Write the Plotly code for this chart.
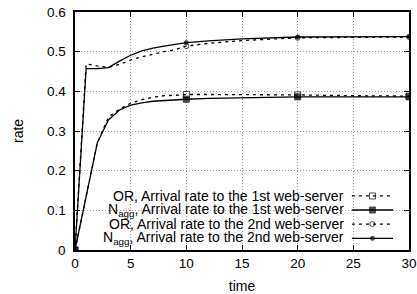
import plotly.graph_objects as go

# ---- data ----
time = [0, 1, 2, 3, 4, 5, 6, 7, 8, 9, 10, 12, 15, 20, 25, 30]
or_1st = [0, 0.135, 0.27, 0.335, 0.355, 0.370, 0.379, 0.385, 0.389, 0.390, 0.392, 0.392, 0.392, 0.391, 0.389, 0.388]
nagg_1st = [0, 0.135, 0.27, 0.328, 0.353, 0.365, 0.371, 0.375, 0.377, 0.379, 0.380, 0.382, 0.384, 0.386, 0.386, 0.386]
or_2nd = [0, 0.469, 0.464, 0.460, 0.468, 0.479, 0.487, 0.494, 0.500, 0.505, 0.514, 0.521, 0.528, 0.535, 0.536, 0.537]
nagg_2nd = [0, 0.457, 0.457, 0.460, 0.476, 0.491, 0.502, 0.509, 0.514, 0.519, 0.523, 0.527, 0.532, 0.537, 0.538, 0.538]

series_names = [
    "OR, Arrival rate to the 1st web-server",
    "N<sub>agg</sub>, Arrival rate to the 1st web-server",
    "OR, Arrival rate to the 2nd web-server",
    "N<sub>agg</sub>, Arrival rate to the 2nd web-server",
]
series_values = [or_1st, nagg_1st, or_2nd, nagg_2nd]

x_ticks = [0, 5, 10, 15, 20, 25, 30]
y_ticks = [0, 0.1, 0.2, 0.3, 0.4, 0.5, 0.6]
y_tick_labels = ["0", "0.1", "0.2", "0.3", "0.4", "0.5", "0.6"]

# ---- styles ----
styles = [
    dict(dash="3px,4px", symbol="square-open", size=6),
    dict(dash="solid", symbol="square", size=6),
    dict(dash="3px,4px", symbol="circle-open", size=5),
    dict(dash="solid", symbol="circle", size=4),
]
FONT = "Liberation Sans, Arial, Helvetica, sans-serif"
marker_every = 10

fig = go.Figure()
for name, vals, st in zip(series_names, series_values, styles):
    sizes = [st["size"] if (t % marker_every == 0) else 0 for t in time]
    fig.add_trace(go.Scatter(
        x=time, y=vals, mode="lines+markers", name=name, showlegend=False,
        line=dict(color="black", width=1.3, dash=st["dash"]),
        marker=dict(symbol=st["symbol"], size=sizes, color="black",
                    line=dict(color="black", width=1)),
        xaxis="x", yaxis="y",
    ))

annotations = []
# y tick labels (placed like gnuplot, close to the axis)
for v, lab in zip(y_ticks, y_tick_labels):
    annotations.append(dict(xref="paper", yref="y", x=0, y=v, text=lab, showarrow=False,
                            xanchor="right", yanchor="middle", xshift=-8, borderpad=0,
                            font=dict(size=13.5, color="black", family=FONT)))
# y axis title
annotations.append(dict(xref="paper", yref="paper", x=0, y=0.5, text="rate", showarrow=False,
                        textangle=-90, xanchor="center", yanchor="middle", xshift=-57,
                        font=dict(size=14, color="black", family=FONT)))

# ---- manual key (text left, sample right, like gnuplot) ----
key_rows = [0.227, 0.168, 0.109, 0.049]
key_text_right = 0.808
key_x0, key_x1 = 0.829, 0.952
shapes = [dict(type="rect", xref="paper", yref="paper", x0=0.003, x1=0.973,
               y0=0.004, y1=0.262, fillcolor="white", line=dict(width=0),
               layer="between")]
for name, st, yr in zip(series_names, styles, key_rows):
    annotations.append(dict(xref="paper", yref="paper", x=key_text_right, y=yr,
                            text=name, showarrow=False, xanchor="right",
                            yanchor="middle", borderpad=0,
                            font=dict(size=14, color="black", family=FONT)))
    fig.add_trace(go.Scatter(
        x=[key_x0, (key_x0 + key_x1) / 2, key_x1], y=[yr, yr, yr],
        mode="lines+markers", showlegend=False, hoverinfo="skip",
        line=dict(color="black", width=1.3, dash=st["dash"]),
        marker=dict(symbol=st["symbol"], size=[0, st["size"], 0], color="black",
                    line=dict(color="black", width=1)),
        xaxis="x2", yaxis="y2",
    ))

axis_common = dict(showline=True, linecolor="black", linewidth=1.5, mirror="ticks",
                   ticks="inside", ticklen=5, tickcolor="black", tickwidth=1,
                   showgrid=True, gridcolor="#9a9a9a", griddash="1px,2px", gridwidth=1,
                   zeroline=False, automargin=False, ticklabeloverflow="allow",
                   tickfont=dict(size=13.5, color="black", family=FONT))

fig.update_layout(
    width=417, height=294,
    margin=dict(l=75, r=8, t=12, b=44, autoexpand=False),
    paper_bgcolor="white", plot_bgcolor="white",
    font=dict(family=FONT, color="black", size=14),
    xaxis=dict(range=[0, 30], tickvals=x_ticks, title=dict(text="time", standoff=12,
               font=dict(size=14)), **axis_common),
    yaxis=dict(range=[0, 0.6], tickvals=y_ticks, showticklabels=False, **axis_common),
    xaxis2=dict(range=[0, 1], overlaying="x", visible=False, fixedrange=True),
    yaxis2=dict(range=[0, 1], overlaying="y", visible=False, fixedrange=True),
    shapes=shapes, annotations=annotations, showlegend=False,
)

fig.write_html("out.html", config={"displayModeBar": False},
               post_script="document.body.style.margin='0';document.body.style.overflow='hidden';")
